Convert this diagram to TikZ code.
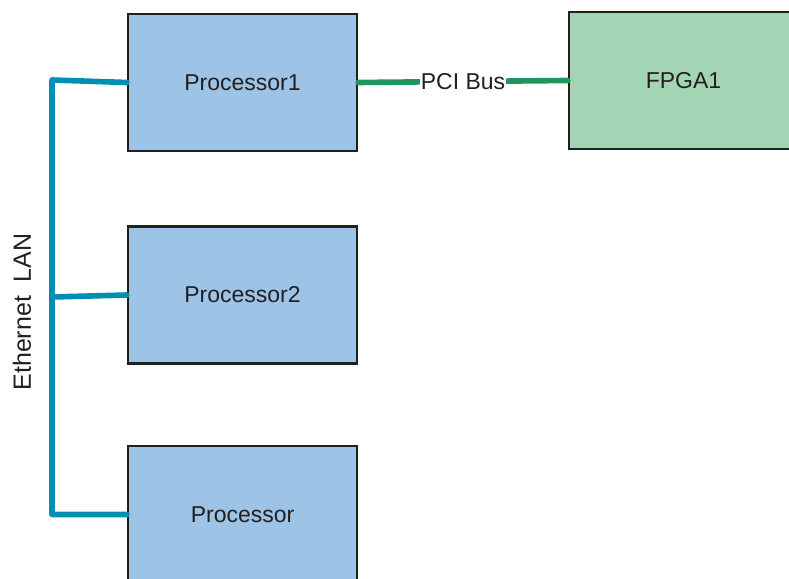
\documentclass[tikz,border=0pt]{standalone}
\usepackage{fontspec}
\setmainfont{Liberation Sans}
\usepackage{tikz}
\usetikzlibrary{positioning}
\usepackage{xcolor}
\definecolor{procblue}{RGB}{157,196,231}
\definecolor{fpgagreen}{RGB}{163,212,180}
\definecolor{lanblue}{RGB}{0,143,178}
\definecolor{busgreen}{RGB}{30,150,92}
\definecolor{inkgray}{RGB}{35,31,32}

\begin{document}
\begin{tikzpicture}[x=0.03cm,y=0.03cm,
		box/.style={draw=inkgray,line width=2pt,minimum width=6.87cm,minimum height=4.11cm,
			text=inkgray,font=\fontsize{19.6}{22}\selectfont},
		proc/.style={box,fill=procblue},
		fpga/.style={box,fill=fpgagreen},
		lan/.style={lanblue,line width=4.8pt,line cap=round,line join=round},
		pci/.style={busgreen,line width=4.8pt,line cap=round}]
		
		\useasboundingbox (0,0) rectangle (789,578);
		
		% Processors
		\node[proc] (p1) at (242.5,495.5) {Processor1};
		\node[proc] (p2) at (242.5,283) {Processor2};
		\node[proc] (p3) at (242.5,63.5) {Processor};
		
		% FPGA
		\node[fpga] (f1) at (683.5,497.5) {FPGA1};
		
		% Ethernet LAN
		\coordinate (lantop) at (52,498);
		\coordinate (lanmid) at (52,281);
		\draw[lan] (p1.west) -- (lantop) |- (p3.west);
		\draw[lan] (lanmid) -- (p2.west);
		\node[rotate=90,text=inkgray,font=\fontsize{21.3}{24}\selectfont] (lanlbl) at (22,266) {Ethernet\ \ LAN};
		
		% PCI bus
		\draw[pci] (p1.east) -- (f1.west)
			node[midway,fill=white,inner sep=1pt,text=inkgray,font=\fontsize{19.6}{22}\selectfont] (pcilbl) {PCI Bus};
		
	\end{tikzpicture}
\end{document}
